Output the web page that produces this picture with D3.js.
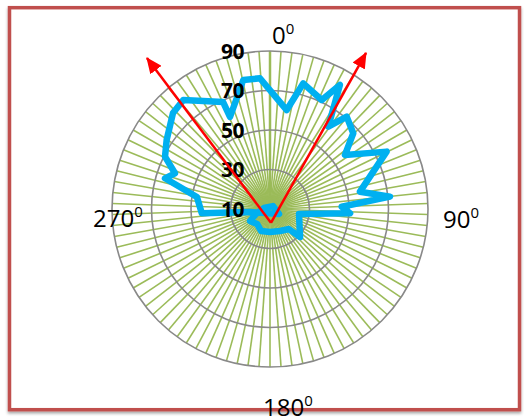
<!DOCTYPE html>
<html>
<head>
<meta charset="utf-8">
<script src="https://cdn.jsdelivr.net/npm/d3@7"></script>
<style>
body { margin: 0; background: #fff; }
svg { display: block; }
</style>
</head>
<body>
<script>
// Подписи колец радиальной оси
var ringValues = [10, 30, 50, 70, 90];
// Подписи направлений
var dirLabels = ["0", "90", "180", "270"];
// Число лучей-категорий сетки
var spokeCount = 90;
// Ломаная: угол (град., по часовой от севера) и значение
var angles = [355.6, 9.6, 14.8, 25.4, 29.4, 35.3, 39.7, 47.7, 54.2, 63.8, 79.1, 84.1, 88.2, 93.1,
              99.8, 133, 136.5, 155.6, 180, 202.2, 220.9, 239, 250.3, 279.5, 45, 119, 261.5,
              266.4, 279.3, 286.3, 290.6, 296.5, 303.7, 314.7, 321.5, 336.3, 336.5, 348.3];
var values = [76.4, 60.8, 75.8, 71.1, 82.1, 61.1, 70.8, 67.0, 56.8, 75.8, 56.4, 71.1, 46.3, 50.6,
              24.9, 30.8, 24.0, 22.2, 21.6, 22.0, 20.0, 21.8, 17.5, 13.1, 12.1, 15.2, 20.2,
              44.6, 47.5, 65.4, 61.4, 69.4, 72.9, 79.1, 80.5, 69.2, 60.8, 76.7];
// Красные стрелки: общее начало и два острия (угол, значение)
var arrowFrom = { angle: 176, value: 17 };
var arrowTips = [{ angle: 320.8, value: 108.6 }, { angle: 31.6, value: 102.8 }];

var width = 524, height = 419;
var cx = 270, cy = 209, R = 158;

var svg = d3.select("body").append("svg")
	.attr("width", width)
	.attr("height", height);

var defs = svg.append("defs");
defs.append("filter").attr("id", "shadow")
	.attr("x", "-5%").attr("y", "-5%").attr("width", "110%").attr("height", "110%")
	.append("feDropShadow")
	.attr("dx", 0).attr("dy", 2).attr("stdDeviation", 1.5)
	.attr("flood-color", "#000").attr("flood-opacity", 0.35);
defs.append("marker").attr("id", "head")
	.attr("markerUnits", "userSpaceOnUse")
	.attr("viewBox", "0 0 16 14")
	.attr("refX", 15).attr("refY", 7)
	.attr("markerWidth", 16).attr("markerHeight", 14)
	.attr("orient", "auto")
	.append("path").attr("d", "M0,0L16,7L0,14Z").attr("fill", "#ff0000");

// рамка
svg.append("rect")
	.attr("x", 9.5).attr("y", 7.7)
	.attr("width", 510).attr("height", 402)
	.attr("fill", "#fff")
	.attr("stroke", "#c0504d")
	.attr("stroke-width", 3.5)
	.attr("filter", "url(#shadow)");

var rad = d3.scaleLinear().domain([10, 90]).range([0, R]);
var ang = function(d) { return d * Math.PI / 180; };

var g = svg.append("g").attr("transform", "translate(" + cx + "," + cy + ")");

// лучи
g.append("g").selectAll("line").data(d3.range(spokeCount)).enter().append("line")
	.attr("x1", 0).attr("y1", 0)
	.attr("x2", function(i) { return rad(90) * Math.sin(ang(i * 360 / spokeCount)); })
	.attr("y2", function(i) { return -rad(90) * Math.cos(ang(i * 360 / spokeCount)); })
	.attr("stroke", "#9bbb59")
	.attr("stroke-width", function(i) { return i == 0 ? 2.5 : 1.6; });

// кольца
g.append("g").selectAll("circle").data(ringValues.slice(1)).enter().append("circle")
	.attr("r", function(d) { return rad(d); })
	.attr("fill", "none")
	.attr("stroke", "#898989")
	.attr("stroke-width", 1.6);

// сама кривая
var pts = angles.map(function(a, i) { return { angle: a, value: values[i] }; });
var line = d3.lineRadial()
	.angle(function(d) { return ang(d.angle); })
	.radius(function(d) { return rad(d.value); })
	.curve(d3.curveLinearClosed);
g.append("path")
	.attr("d", line(pts))
	.attr("fill", "none")
	.attr("stroke", "#00b0f0")
	.attr("stroke-width", 6.5)
	.attr("stroke-linejoin", "round");

// подписи колец
g.append("g").selectAll("text").data(ringValues).enter().append("text")
	.attr("x", -26)
	.attr("y", function(d) { return -rad(d) + 7.5; })
	.attr("text-anchor", "end")
	.style("font-family", "'Open Sans', sans-serif")
	.style("font-weight", "bold")
	.style("font-size", "21px")
	.style("letter-spacing", "-0.5px")
	.attr("fill", "#000")
	.text(function(d) { return d; });

// стрелки
var px = function(p) { return rad(p.value) * Math.sin(ang(p.angle)); };
var py = function(p) { return -rad(p.value) * Math.cos(ang(p.angle)); };
g.append("g").selectAll("line").data(arrowTips).enter().append("line")
	.attr("x1", px(arrowFrom)).attr("y1", py(arrowFrom))
	.attr("x2", px).attr("y2", py)
	.attr("stroke", "#ff0000")
	.attr("stroke-width", 2.5)
	.attr("marker-end", "url(#head)");

// подписи направлений
var dirPos = [[272, 44], [443, 228], [263, 416], [93, 227]];
var t = svg.append("g").selectAll("text").data(dirLabels).enter().append("text")
	.attr("x", function(d, i) { return dirPos[i][0]; })
	.attr("y", function(d, i) { return dirPos[i][1]; })
	.style("font-family", "'Open Sans', sans-serif")
	.style("font-size", "24px")
	.attr("fill", "#000");
t.append("tspan").text(function(d) { return d; });
t.append("tspan").attr("dy", -10).style("font-size", "15px").text("0");
</script>
</body>
</html>
